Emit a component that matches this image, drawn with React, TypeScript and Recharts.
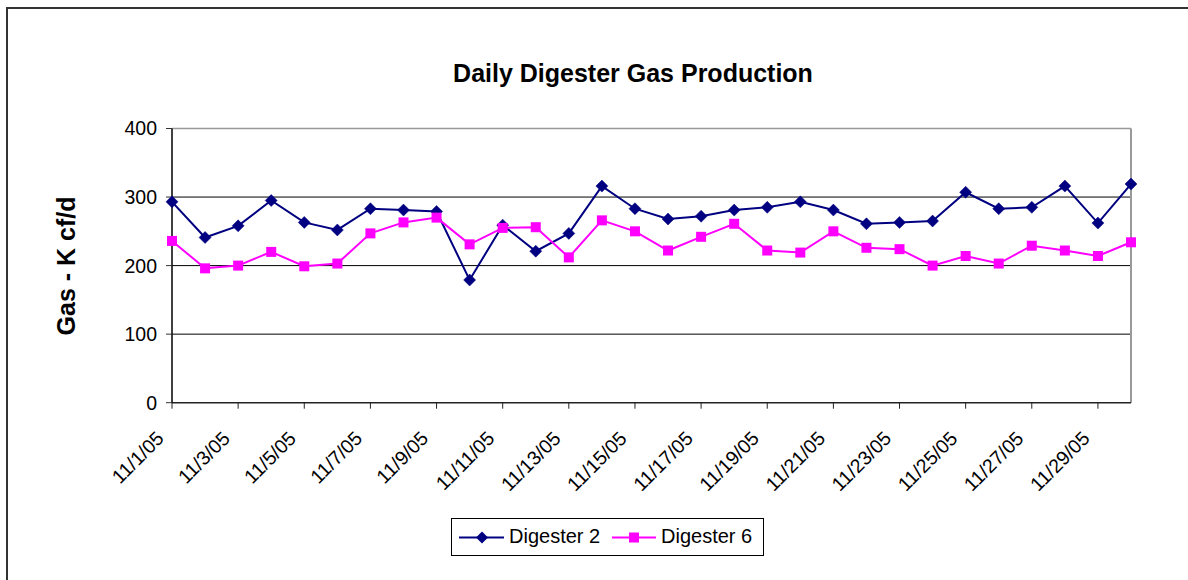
import React from 'react';
import {
  LineChart,
  Line,
  XAxis,
  YAxis,
  CartesianGrid,
  Legend,
  ReferenceLine,
} from 'recharts';

const dates = [
  '11/1/05', '11/2/05', '11/3/05', '11/4/05', '11/5/05', '11/6/05', '11/7/05', '11/8/05', '11/9/05', '11/10/05',
  '11/11/05', '11/12/05', '11/13/05', '11/14/05', '11/15/05', '11/16/05', '11/17/05', '11/18/05', '11/19/05', '11/20/05',
  '11/21/05', '11/22/05', '11/23/05', '11/24/05', '11/25/05', '11/26/05', '11/27/05', '11/28/05', '11/29/05', '11/30/05',
];

const digester2 = [
  293, 241, 258, 295, 263, 252, 283, 281, 279, 179,
  259, 221, 247, 316, 283, 268, 272, 281, 285, 293,
  281, 261, 263, 265, 307, 283, 285, 316, 262, 319,
];

const digester6 = [
  236, 196, 200, 220, 199, 203, 247, 263, 270, 231,
  255, 256, 212, 266, 250, 222, 242, 261, 222, 219,
  250, 226, 224, 200, 214, 203, 229, 222, 214, 234,
];

const yTicks = [0, 100, 200, 300, 400];
const gridValues = [100, 200, 300];

const seriesNames = ['Digester 2', 'Digester 6'];

const data = dates.map((d, i) => ({ date: d, d2: digester2[i], d6: digester6[i] }));

const FONT = '"Liberation Sans", Arial, Helvetica, sans-serif';
const NAVY = '#000080';
const MAGENTA = '#FF00FF';

const Diamond = (props: any) => {
  const { cx, cy, index } = props;
  if (cx == null || cy == null) return <g key={`d2-${index}`} />;
  const r = 6;
  return (
    <polygon
      key={`d2-${index}`}
      points={`${cx},${cy - r} ${cx + r},${cy} ${cx},${cy + r} ${cx - r},${cy}`}
      fill={NAVY}
      stroke={NAVY}
      strokeWidth={0.5}
    />
  );
};

const Square = (props: any) => {
  const { cx, cy, index } = props;
  if (cx == null || cy == null) return <g key={`d6-${index}`} />;
  const h = 5;
  return <rect key={`d6-${index}`} x={cx - h} y={cy - h} width={2 * h} height={2 * h} fill={MAGENTA} />;
};

const XTick = (props: any) => {
  const { x, y, payload } = props;
  const tx = x - 7;
  const ty = y + 29;
  return (
    <text
      x={tx}
      y={ty}
      textAnchor="end"
      transform={`rotate(-45, ${tx}, ${ty})`}
      fontFamily={FONT}
      fontSize={19.5}
      fill="#000"
    >
      {payload.value}
    </text>
  );
};

const YLabel = () => (
  <text
    x={75}
    y={266}
    textAnchor="middle"
    transform="rotate(-90, 75, 266)"
    fontFamily={FONT}
    fontSize={25}
    fontWeight="bold"
    fill="#000"
  >
    Gas - K cf/d
  </text>
);

const LegendBox = () => (
  <div
    style={{
      width: 313,
      height: 38,
      boxSizing: 'border-box',
      border: '1px solid #000',
      background: '#fff',
    }}
  >
    <svg width={311} height={36} style={{ display: 'block' }}>
      <line x1={7} y1={18.5} x2={52} y2={18.5} stroke={NAVY} strokeWidth={2} />
      <polygon points="30,12.5 36,18.5 30,24.5 24,18.5" fill={NAVY} />
      <text x={57} y={23.5} fontFamily={FONT} fontSize={20} fill="#000">
        {seriesNames[0]}
      </text>
      <line x1={160} y1={18.5} x2={204} y2={18.5} stroke={MAGENTA} strokeWidth={2} />
      <rect x={177} y={13.5} width={10} height={10} fill={MAGENTA} />
      <text x={209} y={23.5} fontFamily={FONT} fontSize={20} fill="#000">
        {seriesNames[1]}
      </text>
    </svg>
  </div>
);

export default function App() {
  return (
    <div style={{ position: 'absolute', left: 0, top: 0, width: 1188, height: 580, background: '#fff' }}>
      <div
        style={{
          position: 'fixed',
          left: 6,
          top: 7,
          width: 3000,
          height: 3000,
          border: '2px solid #333',
          pointerEvents: 'none',
          zIndex: 5,
        }}
      />
      <div
        style={{
          position: 'absolute',
          left: 0,
          top: 60.8,
          width: 1266,
          textAlign: 'center',
          fontFamily: FONT,
          fontSize: 25,
          fontWeight: 'bold',
          lineHeight: '25px',
          color: '#000',
          zIndex: 2,
        }}
      >
        Daily Digester Gas Production
      </div>
      <div style={{ position: 'absolute', left: 0, top: 0 }}>
        <LineChart
          width={1188}
          height={580}
          data={data}
          margin={{ top: 128.5, right: 57, bottom: 117.3, left: 92 }}
        >
          <CartesianGrid horizontal vertical={false} horizontalValues={gridValues} stroke="#000" strokeWidth={1} />
          <XAxis
            dataKey="date"
            interval={1}
            height={60}
            tickSize={6}
            tickMargin={2}
            tick={<XTick />}
            axisLine={{ stroke: '#222', strokeWidth: 1.5 }}
            tickLine={{ stroke: '#222', strokeWidth: 1 }}
            padding={{ left: 0, right: 0 }}
          />
          <YAxis
            domain={[0, 400]}
            ticks={yTicks}
            width={80}
            tickSize={6}
            tickMargin={9}
            axisLine={{ stroke: '#000', strokeWidth: 1.5 }}
            tickLine={{ stroke: '#333', strokeWidth: 1 }}
            tick={{ fontFamily: FONT, fontSize: 19.5, fill: '#000' }}
            label={{ content: <YLabel /> }}
          />
          <ReferenceLine y={400} stroke="#999" strokeWidth={1.5} />
          <ReferenceLine x={dates[dates.length - 1]} stroke="#999" strokeWidth={2} />
          <Line
            type="linear"
            dataKey="d2"
            name={seriesNames[0]}
            stroke={NAVY}
            strokeWidth={2}
            dot={Diamond}
            activeDot={false}
            isAnimationActive={false}
          />
          <Line
            type="linear"
            dataKey="d6"
            name={seriesNames[1]}
            stroke={MAGENTA}
            strokeWidth={2}
            dot={Square}
            activeDot={false}
            isAnimationActive={false}
          />
          <Legend
            layout="vertical"
            align="center"
            verticalAlign="middle"
            content={<LegendBox />}
            wrapperStyle={{ left: 451, top: 518, width: 313, height: 38 }}
          />
        </LineChart>
      </div>
    </div>
  );
}
